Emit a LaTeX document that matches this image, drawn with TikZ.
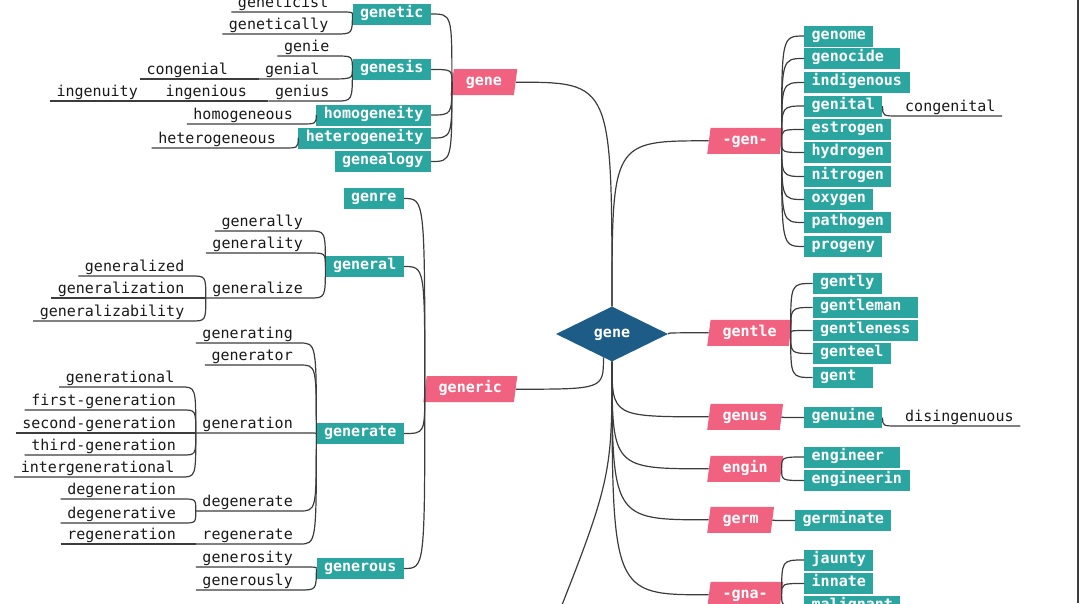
\documentclass[tikz,border=0pt]{standalone}
\usepackage{fontspec}
\setmainfont{DejaVu Sans Mono}
\usetikzlibrary{shapes.geometric}
\definecolor{gpink}{RGB}{240,98,128}
\definecolor{gteal}{RGB}{43,165,160}
\definecolor{gblue}{RGB}{28,92,134}
\definecolor{gline}{RGB}{60,60,60}
\definecolor{gtext}{RGB}{25,25,25}

\begin{document}
\begin{tikzpicture}[
x=1pt,y=-1pt,
every node/.style={font=\fontsize{15}{18}\selectfont,text height=10pt,text depth=3.5pt},
box/.style={fill=gteal,text=white,font=\fontsize{15}{18}\selectfont\bfseries,
  inner xsep=7.5pt,inner ysep=0pt,minimum height=21pt},
wide/.style={text width=#1,align=left},
pk/.style={trapezium,trapezium left angle=76,trapezium right angle=104,
  trapezium stretches=true,fill=gpink,
  text=white,font=\fontsize{15}{18}\selectfont\bfseries,inner xsep=12pt,inner ysep=0pt,
  minimum height=26pt},
leaf/.style={text=gtext,inner xsep=6.5pt,inner ysep=1pt,text depth=3pt},
ln/.style={draw=gline,line width=1.2pt},
link/.style={to path={.. controls (\tikztotarget |- \tikztostart) .. (\tikztotarget)}},
]
\useasboundingbox (0,0) rectangle (1080,603);
\clip (0,0) rectangle (1080,603);

% centre
\node[diamond,aspect=2,fill=gblue,text=white,font=\fontsize{15}{18}\selectfont\bfseries,
  minimum width=112pt,minimum height=55pt,inner sep=0pt] (root) at (612,334) {gene};

% roots
\node[pk,anchor=top right corner] (pgene) at (517.5,69) {gene};
\node[pk,anchor=top right corner] (generic) at (517.5,376) {generic};
\node[pk,anchor=bottom left corner] (gen) at (707,154) {-gen-};
\node[pk,anchor=bottom left corner] (gentle) at (707,346) {gentle};
\node[pk,anchor=bottom left corner] (genus) at (707,430) {genus};
\node[pk,anchor=bottom left corner] (engin) at (707,482) {engin};
\node[pk,anchor=bottom left corner] (germ) at (707,533) {germ};
\node[pk,anchor=bottom left corner] (gna) at (707,608) {-gna-};

% words, left
\node[box,anchor=east] (genetic) at (431,14) {genetic};
\node[box,anchor=east] (genesis) at (431,69.5) {genesis};
\node[box,anchor=east] (homogeneity) at (431,115) {homogeneity};
\node[box,anchor=east] (heterogeneity) at (431,138) {heterogeneity};
\node[box,anchor=east] (genealogy) at (431,161.5) {genealogy};
\node[box,anchor=east] (genre) at (404,198.5) {genre};
\node[box,anchor=east] (general) at (404,266.5) {general};
\node[box,anchor=east] (generate) at (404,433.5) {generate};
\node[box,anchor=east] (generous) at (404,568.5) {generous};

% words, right
\node[box,anchor=west] (genome) at (804,36) {genome};
\node[box,anchor=west,wide=81pt] (genocide) at (804,58.5) {genocide};
\node[box,anchor=west] (indigenous) at (804,82.5) {indigenous};
\node[box,anchor=west] (genital) at (804,106) {genital};
\node[box,anchor=west] (estrogen) at (804,129.5) {estrogen};
\node[box,anchor=west] (hydrogen) at (804,152.5) {hydrogen};
\node[box,anchor=west] (nitrogen) at (804,176.5) {nitrogen};
\node[box,anchor=west] (oxygen) at (804,199.5) {oxygen};
\node[box,anchor=west] (pathogen) at (804,222.5) {pathogen};
\node[box,anchor=west] (progeny) at (804,246.5) {progeny};
\node[box,anchor=west] (gently) at (812.5,283.5) {gently};
\node[box,anchor=west,wide=90pt] (gentleman) at (812.5,307.5) {gentleman};
\node[box,anchor=west] (gentleness) at (812.5,330.5) {gentleness};
\node[box,anchor=west] (genteel) at (812.5,353.5) {genteel};
\node[box,anchor=west,wide=45pt] (gent) at (812.5,377.5) {gent};
\node[box,anchor=west] (genuine) at (804,417.5) {genuine};
\node[box,anchor=west,wide=81pt] (engineer) at (804,457) {engineer};
\node[box,anchor=west] (engineerin) at (804,480.5) {engineerin};
\node[box,anchor=west] (germinate) at (795,520.5) {germinate};
\node[box,anchor=west] (jaunty) at (804,560) {jaunty};
\node[box,anchor=west] (innate) at (804,583.5) {innate};
\node[box,anchor=west] (malignant) at (804,606.5) {malignant};

% leaves
\node[leaf,anchor=south east] (geneticist) at (335,12) {geneticist};
\node[leaf,anchor=south east] (genetically) at (335,34) {genetically};
\node[leaf,anchor=south east] (genie) at (336,56) {genie};
\node[leaf,anchor=south east] (genial) at (326,79) {genial};
\node[leaf,anchor=south east] (congenial) at (234.5,79) {congenial};
\node[leaf,anchor=south east] (genius) at (336,101) {genius};
\node[leaf,anchor=south east] (ingenious) at (253.5,101) {ingenious};
\node[leaf,anchor=south east] (ingenuity) at (144.5,101) {ingenuity};
\node[leaf,anchor=south east] (homogeneous) at (299.5,124) {homogeneous};
\node[leaf,anchor=south east] (heterogeneous) at (282.5,148) {heterogeneous};
\node[leaf,anchor=south east] (generally) at (309.5,231) {generally};
\node[leaf,anchor=south east] (generality) at (309.5,253) {generality};
\node[leaf,anchor=south east] (generalize) at (309.5,298) {generalize};
\node[leaf,anchor=south east] (generalized) at (191,276) {generalized};
\node[leaf,anchor=south east] (generalization) at (191,298) {generalization};
\node[leaf,anchor=south east] (generalizability) at (191,321) {generalizability};
\node[leaf,anchor=south east] (generating) at (299.5,343) {generating};
\node[leaf,anchor=south east] (generator) at (299.5,365) {generator};
\node[leaf,anchor=south east] (generation) at (299.5,433) {generation};
\node[leaf,anchor=south east] (generational) at (181,387) {generational};
\node[leaf,anchor=south east] (firstgen) at (182.5,410) {first-generation};
\node[leaf,anchor=south east] (secondgen) at (182.5,433) {second-generation};
\node[leaf,anchor=south east] (thirdgen) at (182.5,455) {third-generation};
\node[leaf,anchor=south east] (intergen) at (181,477) {intergenerational};
\node[leaf,anchor=south east] (degenerate) at (299.5,511) {degenerate};
\node[leaf,anchor=south east] (degeneration) at (182.5,499) {degeneration};
\node[leaf,anchor=south east] (degenerative) at (182.5,523) {degenerative};
\node[leaf,anchor=south east] (regenerate) at (299.5,544) {regenerate};
\node[leaf,anchor=south east] (regeneration) at (182.5,544) {regeneration};
\node[leaf,anchor=south east] (generosity) at (299.5,567) {generosity};
\node[leaf,anchor=south east] (generously) at (299.5,590) {generously};
\node[leaf,anchor=south west] (congenital) at (898.5,116) {congenital};
\node[leaf,anchor=south west] (disingenuous) at (898.5,426) {disingenuous};

% connectors
\draw[ln] (pgene.east) to[link] (root.north);
\draw[ln] (gen.west) to[link] (root.north);
\draw[ln] (generic.east) to[link] (root.250);
\draw[ln] (gentle.west) to[link] (root.east);
\foreach \a in {genus,engin,germ,gna}
  \draw[ln] (\a.west) to[link] (root.south);
\coordinate (off) at (540,660);
\draw[ln] (root.south) .. controls (612,480) .. (off);

\foreach \a in {genetic,genesis,homogeneity,heterogeneity,genealogy}
  \draw[ln] (\a.east) to[link] (pgene.west);
\foreach \a in {genre,general,generate,generous}
  \draw[ln] (\a.east) to[link] (generic.west);
\foreach \a in {genome,genocide,indigenous,genital,estrogen,hydrogen,nitrogen,oxygen,pathogen,progeny}
  \draw[ln] (\a.west) to[link] (gen.east);
\foreach \a in {gently,gentleman,gentleness,genteel,gent}
  \draw[ln] (\a.west) to[link] (gentle.east);
\draw[ln] (genuine.west) to[link] (genus.east);
\foreach \a in {engineer,engineerin}
  \draw[ln] (\a.west) to[link] (engin.east);
\draw[ln] (germinate.west) to[link] (germ.east);
\foreach \a in {jaunty,innate,malignant}
  \draw[ln] (\a.west) to[link] (gna.east);

\foreach \a/\b in {geneticist/genetic,genetically/genetic,genie/genesis,genial/genesis,
  genius/genesis,homogeneous/homogeneity,heterogeneous/heterogeneity,generally/general,
  generality/general,generalize/general,generating/generate,generator/generate,
  generation/generate,degenerate/generate,regenerate/generate,generosity/generous,
  generously/generous}
  \draw[ln] (\a.south west) -- (\a.south east) to[link] (\b.west);
\foreach \a/\b in {congenial/genial,ingenious/genius,ingenuity/ingenious,
  generalized/generalize,generalization/generalize,generalizability/generalize,
  generational/generation,firstgen/generation,secondgen/generation,thirdgen/generation,
  intergen/generation,degeneration/degenerate,degenerative/degenerate,regeneration/regenerate}
  \draw[ln] (\a.south west) -- (\a.south east) to[link] (\b.south west);
\foreach \a/\b in {congenital/genital,disingenuous/genuine}
  \draw[ln] (\a.south east) -- (\a.south west) to[link] (\b.east);

\draw[gline,line width=2pt] (1078,0) -- (1078,603);
\end{tikzpicture}
\end{document}
